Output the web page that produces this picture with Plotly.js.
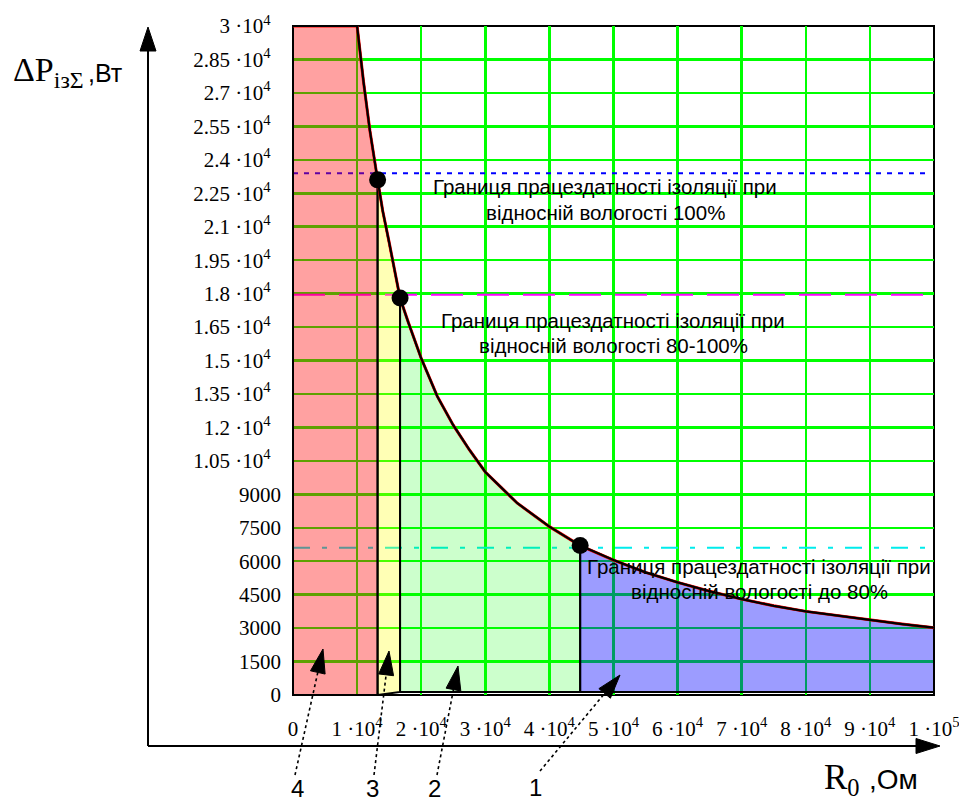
<!DOCTYPE html>
<html><head><meta charset="utf-8">
<script src="https://cdn.plot.ly/plotly-3.0.1.min.js"></script>
<style>html,body{margin:0;padding:0;background:#fff;}</style>
</head><body><div id="chart" style="width:959px;height:801px;"></div>
<script>
// ---- data ----
const R0 = [0, 10000, 11000, 12000, 13200, 14000, 15000, 16700, 18000, 20000, 22500, 25000, 27500, 30000, 32500, 35000, 40000, 44800, 50000, 55000, 60000, 65000, 70000, 75000, 80000, 85000, 90000, 95000, 100000];
const P  = [30000, 30000, 27500, 25300, 23100, 21700, 20300, 17800, 16700, 15100, 13400, 12100, 11000, 10000, 9300, 8600, 7550, 6700, 6050, 5500, 5050, 4650, 4300, 4000, 3750, 3550, 3350, 3180, 3020];
const regionEdges = [0, 13200, 16700, 44800, 100000];
const regionBaseStart = [0, 0, 135, 135];
const regionBaseEnd = [0, 135, 135, 135];
const regionLabels = ['4', '3', '2', '1'];
const dotR = [13200, 16700, 44800];
const dotP = [23100, 17800, 6700];
const limitLevels = [23400, 17950, 6600];
const limitLine1 = ['Границя працездатності ізоляції при', 'Границя працездатності ізоляції при', 'Границя працездатності ізоляції при'];
const limitLine2 = ['відносній вологості 100%', 'відносній вологості 80-100%', 'відносній вологості до 80%'];
const xTickVals = [0, 10000, 20000, 30000, 40000, 50000, 60000, 70000, 80000, 90000, 100000];
const xTickText = ['0', '1 ·10<sup>4</sup>', '2 ·10<sup>4</sup>', '3 ·10<sup>4</sup>', '4 ·10<sup>4</sup>', '5 ·10<sup>4</sup>', '6 ·10<sup>4</sup>', '7 ·10<sup>4</sup>', '8 ·10<sup>4</sup>', '9 ·10<sup>4</sup>', '1 ·10<sup>5</sup>'];
const yTickVals = [0, 1500, 3000, 4500, 6000, 7500, 9000, 10500, 12000, 13500, 15000, 16500, 18000, 19500, 21000, 22500, 24000, 25500, 27000, 28500, 30000];
const yTickText = ['0', '1500', '3000', '4500', '6000', '7500', '9000', '1.05 ·10<sup>4</sup>', '1.2 ·10<sup>4</sup>', '1.35 ·10<sup>4</sup>', '1.5 ·10<sup>4</sup>', '1.65 ·10<sup>4</sup>', '1.8 ·10<sup>4</sup>', '1.95 ·10<sup>4</sup>', '2.1 ·10<sup>4</sup>', '2.25 ·10<sup>4</sup>', '2.4 ·10<sup>4</sup>', '2.55 ·10<sup>4</sup>', '2.7 ·10<sup>4</sup>', '2.85 ·10<sup>4</sup>', '3 ·10<sup>4</sup>'];

// ---- styles / layout geometry ----
const W = 959, H = 801;
const L = 293, R = 934, T = 26, B = 695;
const pxX = x => (x - L) / (R - L);
const pxY = y => (B - y) / (B - T);
const fillColors = ['rgba(255,0,0,0.37)', 'rgba(255,255,0,0.29)', 'rgba(0,255,0,0.2)', 'rgba(0,0,255,0.39)'];
const limitColors = ['#0000ff', '#ff00ff', '#00ecec'];
const limitDash = ['5px,6px', '32px,14px', '17px,12px,5px,12px'];
const serif = 'Liberation Serif, Times New Roman, serif';
const sans = 'Liberation Sans, Arial, sans-serif';
// pad superscripted y labels so plain numbers sit further right, as in the original
const yTickShown = yTickText.map(t => t.indexOf('<sup>') >= 0 ? t + '\u2002' : t);

const traces = [];
limitLevels.forEach((v, i) => {
  traces.push({x: [0, 99500], y: [v, v], mode: 'lines', line: {color: limitColors[i], width: 2, dash: limitDash[i]}, hoverinfo: 'skip'});
});
for (let i = 0; i < regionEdges.length - 1; i++) {
  const a = regionEdges[i], b = regionEdges[i + 1];
  const xs = [a], ys = [regionBaseStart[i]];
  R0.forEach((r, k) => { if (r >= a && r <= b) { xs.push(r); ys.push(P[k]); } });
  xs.push(b); ys.push(regionBaseEnd[i]);
  xs.push(a); ys.push(regionBaseStart[i]);
  traces.push({x: xs, y: ys, mode: 'lines', fill: 'toself', fillcolor: fillColors[i], line: {color: '#000', width: 2}, hoverinfo: 'skip'});
}
traces.push({x: R0, y: P, mode: 'lines', line: {color: '#ff0000', width: 3}, hoverinfo: 'skip'});
traces.push({x: R0, y: P, mode: 'lines', line: {color: '#000', width: 2.2}, hoverinfo: 'skip'});
traces.push({x: dotR, y: dotP, mode: 'markers', marker: {color: '#000', size: 17}, hoverinfo: 'skip', cliponaxis: false});

const shapes = [];
function arrow(x0, y0, x1, y1, len, half, dash, width) {
  const dx = x1 - x0, dy = y1 - y0, d = Math.hypot(dx, dy);
  const ux = dx / d, uy = dy / d;
  const bx = x1 - ux * len, by = y1 - uy * len;
  const nx = -uy, ny = ux;
  shapes.push({type: 'line', xref: 'paper', yref: 'paper', x0: pxX(x0), y0: pxY(y0), x1: pxX(bx + ux * 2), y1: pxY(by + uy * 2),
    line: {color: '#000', width: width, dash: dash}});
  const p = `M ${pxX(x1)} ${pxY(y1)} L ${pxX(bx + nx * half)} ${pxY(by + ny * half)} L ${pxX(bx - nx * half)} ${pxY(by - ny * half)} Z`;
  shapes.push({type: 'path', xref: 'paper', yref: 'paper', path: p, fillcolor: '#000', line: {color: '#000', width: 1}});
}
shapes.push({type: 'rect', xref: 'paper', yref: 'paper', x0: 0, y0: 0, x1: 1, y1: 1, line: {color: '#000', width: 2}, layer: 'below'});
arrow(148, 746, 148, 27, 24, 8, 'solid', 2);
arrow(148, 746, 940, 746, 24, 7.5, 'solid', 2);
const labelArrowTail = [[295, 775], [374, 775], [437, 775], [540, 771]];
const labelArrowTip = [[323, 649], [389, 651], [458, 666], [620, 675]];
labelArrowTail.forEach((t, i) => arrow(t[0], t[1], labelArrowTip[i][0], labelArrowTip[i][1], 24, 7.5, 'dot', 1.6));

const annotations = [];
const textPos = [[605, 187, 212], [613, 320, 345], [759, 566, 591]];
textPos.forEach((p, i) => {
  annotations.push({xref: 'paper', yref: 'paper', x: pxX(p[0]), y: pxY(p[1]), xanchor: 'center', yanchor: 'middle', showarrow: false,
    text: limitLine1[i], font: {family: sans, size: 20.5, color: '#000'}});
  annotations.push({xref: 'paper', yref: 'paper', x: pxX(p[0]), y: pxY(p[2]), xanchor: 'center', yanchor: 'middle', showarrow: false,
    text: limitLine2[i], font: {family: sans, size: 20.5, color: '#000'}});
});
const numPos = [[297, 788], [372, 788], [434, 788], [535, 787]];
numPos.forEach((p, i) => {
  annotations.push({xref: 'paper', yref: 'paper', x: pxX(p[0]), y: pxY(p[1]), xanchor: 'center', yanchor: 'middle', showarrow: false,
    text: regionLabels[i], font: {family: sans, size: 24, color: '#000'}});
});
annotations.push({xref: 'paper', yref: 'paper', x: pxX(11), y: pxY(72), xanchor: 'left', yanchor: 'middle', showarrow: false,
  text: 'ΔP<sub>ізΣ</sub>', font: {family: serif, size: 34, color: '#000'}});
annotations.push({xref: 'paper', yref: 'paper', x: pxX(86), y: pxY(73), xanchor: 'left', yanchor: 'middle', showarrow: false,
  text: ',Вт', font: {family: sans, size: 25, color: '#000'}});
annotations.push({xref: 'paper', yref: 'paper', x: pxX(822), y: pxY(779), xanchor: 'left', yanchor: 'middle', showarrow: false,
  text: 'R<sub>0</sub>', font: {family: serif, size: 35, color: '#000'}});
annotations.push({xref: 'paper', yref: 'paper', x: pxX(867), y: pxY(779), xanchor: 'left', yanchor: 'middle', showarrow: false,
  text: ',Ом', font: {family: sans, size: 28, color: '#000'}});

const layout = {
  width: W, height: H,
  margin: {l: L, r: W - R, t: T, b: H - B, pad: 0},
  paper_bgcolor: '#fff', plot_bgcolor: '#fff',
  showlegend: false, hovermode: false,
  xaxis: {range: [0, 100000], tickvals: xTickVals, ticktext: xTickText, showgrid: true, gridcolor: '#00ff00', gridwidth: 2.5,
    zeroline: false, showline: false, ticks: '', ticklabelstandoff: 19, tickangle: 0, fixedrange: true, ticklabeloverflow: 'allow',
    tickfont: {family: serif, size: 21, color: '#000'}},
  yaxis: {range: [0, 30000], tickvals: yTickVals, ticktext: yTickShown, showgrid: true, gridcolor: '#00ff00', gridwidth: 2.5,
    zeroline: false, showline: false, ticks: '', ticklabelstandoff: 11, fixedrange: true, ticklabeloverflow: 'allow',
    tickfont: {family: serif, size: 21, color: '#000'}},
  shapes: shapes,
  annotations: annotations
};
Plotly.newPlot('chart', traces, layout, {staticPlot: true, displayModeBar: false});
</script>
</body></html>
